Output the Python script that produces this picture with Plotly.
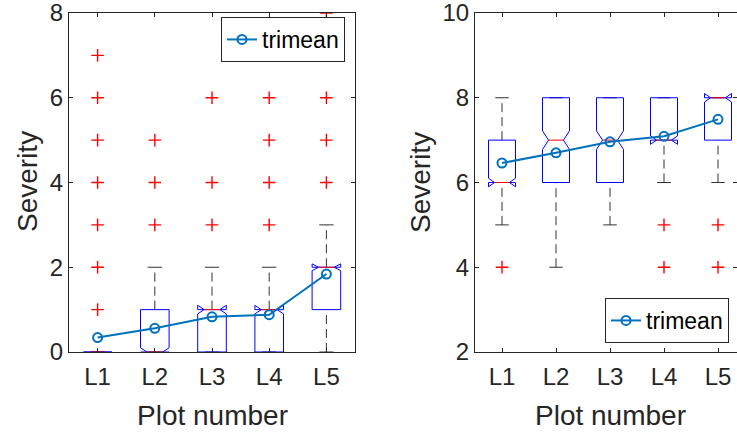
import plotly.graph_objects as go

categories = ["L1", "L2", "L3", "L4", "L5"]
positions = [1, 2, 3, 4, 5]

# Left panel statistics
left_q1 = [0, 0, 0, 0, 1]
left_median = [0, 0, 1, 1, 2]
left_q3 = [0, 1, 1, 1, 2]
left_whisk_lo = [0, 0, 0, 0, 0]
left_whisk_hi = [0, 2, 2, 2, 3]
left_notch = [0, 0.1, 0.1, 0.1, 0.08]
left_outliers = [[1, 2, 3, 4, 5, 6, 7], [3, 4, 5], [3, 4, 6], [3, 4, 5, 6, 7], [4, 5, 6, 7, 8]]
left_trimean = [0.34, 0.56, 0.83, 0.88, 1.84]

# Right panel statistics
right_q1 = [6, 6, 6, 7, 7]
right_median = [6, 7, 7, 7, 8]
right_q3 = [7, 8, 8, 8, 8]
right_whisk_lo = [5, 4, 5, 6, 6]
right_whisk_hi = [8, 8, 8, 8, 8]
right_notch = [0.1, 0.22, 0.22, 0.1, 0.1]
right_outliers = [[4], [], [], [4, 5], [4, 5]]
right_trimean = [6.46, 6.70, 6.96, 7.09, 7.49]

HW = 0.25      # half box width
NW = 0.55      # notch inset ratio
CW = 0.125     # whisker cap half width

BLUE = "#0000FF"
RED = "#FF0000"
TRI = "#0072BD"
AX = "#262626"
FONT = "Liberation Sans, Arial, Helvetica, sans-serif"

fig = go.Figure()


def add_panel(q1s, meds, q3s, wlo, whi, notches, outs, tri, xa, ya, legend):
    wx, wy, cx, cy, bx, by, mx, my, ox, oy = [], [], [], [], [], [], [], [], [], []
    for p, q1, m, q3, lo, hi, n, o in zip(positions, q1s, meds, q3s, wlo, whi, notches, outs):
        # whiskers
        wx += [p, p, None, p, p, None]
        wy += [q3, hi, None, lo, q1, None]
        # caps
        cx += [p - CW, p + CW, None, p - CW, p + CW, None]
        cy += [hi, hi, None, lo, lo, None]
        # notched box outline
        l, r = p - HW, p + HW
        li, ri = p - HW * NW, p + HW * NW
        bx += [l, l, li, l, l, r, r, ri, r, r, l, None]
        by += [q1, m - n, m, m + n, q3, q3, m + n, m, m - n, q1, q1, None]
        # median
        mx += [li, ri, None]
        my += [m, m, None]
        for v in o:
            ox.append(p)
            oy.append(v)
    fig.add_trace(go.Scatter(x=wx, y=wy, mode="lines", xaxis=xa, yaxis=ya, showlegend=False,
                             line=dict(color="#333333", width=1, dash="9px,5px"), hoverinfo="skip"))
    fig.add_trace(go.Scatter(x=cx, y=cy, mode="lines", xaxis=xa, yaxis=ya, showlegend=False,
                             line=dict(color="#333333", width=1), hoverinfo="skip"))
    fig.add_trace(go.Scatter(x=bx, y=by, mode="lines", xaxis=xa, yaxis=ya, showlegend=False,
                             line=dict(color=BLUE, width=1), hoverinfo="skip"))
    fig.add_trace(go.Scatter(x=mx, y=my, mode="lines", xaxis=xa, yaxis=ya, showlegend=False,
                             line=dict(color=RED, width=1), hoverinfo="skip"))
    fig.add_trace(go.Scatter(x=ox, y=oy, mode="markers", xaxis=xa, yaxis=ya, showlegend=False,
                             marker=dict(symbol="cross-thin", size=9, line=dict(color=RED, width=1.4)),
                             hoverinfo="skip"))
    fig.add_trace(go.Scatter(x=positions, y=tri, mode="lines+markers", name="trimean",
                             xaxis=xa, yaxis=ya, legend=legend,
                             line=dict(color=TRI, width=2),
                             marker=dict(symbol="circle-open", size=9, color=TRI,
                                         line=dict(color=TRI, width=2))))


add_panel(left_q1, left_median, left_q3, left_whisk_lo, left_whisk_hi, left_notch,
          left_outliers, left_trimean, "x", "y", "legend")
add_panel(right_q1, right_median, right_q3, right_whisk_lo, right_whisk_hi, right_notch,
          right_outliers, right_trimean, "x2", "y2", "legend2")

axis_common = dict(showline=True, linecolor=AX, linewidth=1, mirror="allticks", ticks="inside",
                   ticklen=4, tickcolor=AX, showgrid=False, zeroline=False, automargin=False,
                   ticklabeloverflow="allow",
                   tickfont=dict(size=24, color=AX, family=FONT))

W, H = 737, 435
ydom = [83 / H, 422 / H]

fig.update_layout(
    template="none",
    width=W, height=H, margin=dict(l=0, r=0, t=0, b=0, autoexpand=False),
    plot_bgcolor="white", paper_bgcolor="white",
    font=dict(family=FONT, color=AX),
    xaxis=dict(domain=[69 / W, 355 / W], range=[0.5, 5.5], tickvals=positions,
               ticktext=categories, anchor="y", ticklabelstandoff=3, **axis_common),
    yaxis=dict(domain=ydom, range=[0, 8], tickvals=[0, 2, 4, 6, 8], anchor="x", **axis_common),
    xaxis2=dict(domain=[475 / W, 1.0], range=[0.5, 5.5 - 8 / 54], tickvals=positions,
                ticktext=categories, anchor="y2", ticklabelstandoff=3, **axis_common),
    yaxis2=dict(domain=ydom, range=[2, 10], tickvals=[2, 4, 6, 8, 10], anchor="x2", **axis_common),
    legend=dict(x=345 / W, y=(H - 17) / H, xanchor="right", yanchor="top",
                bgcolor="white", bordercolor=AX, borderwidth=1, tracegroupgap=0,
                itemwidth=30,
                font=dict(size=23, color="black", family=FONT)),
    legend2=dict(x=729 / W, y=(H - 298) / H, xanchor="right", yanchor="top",
                 bgcolor="white", bordercolor=AX, borderwidth=1, tracegroupgap=0,
                 itemwidth=30,
                 font=dict(size=23, color="black", family=FONT)),
    annotations=[
        dict(text="Plot number", x=212 / W, y=(H - 415) / H, xref="paper", yref="paper",
             showarrow=False, xanchor="center", yanchor="middle",
             font=dict(size=28, color=AX, family=FONT)),
        dict(text="Plot number", x=610 / W, y=(H - 415) / H, xref="paper", yref="paper",
             showarrow=False, xanchor="center", yanchor="middle",
             font=dict(size=28, color=AX, family=FONT)),
        dict(text="Severity", x=27 / W, y=(H - 182) / H, xref="paper", yref="paper",
             showarrow=False, xanchor="center", yanchor="middle", textangle=-90,
             font=dict(size=28, color=AX, family=FONT)),
        dict(text="Severity", x=420 / W, y=(H - 182) / H, xref="paper", yref="paper",
             showarrow=False, xanchor="center", yanchor="middle", textangle=-90,
             font=dict(size=28, color=AX, family=FONT)),
    ],
)

fig.write_html("out.html", config={"displayModeBar": False},
               post_script="document.body.style.margin='0px';")
